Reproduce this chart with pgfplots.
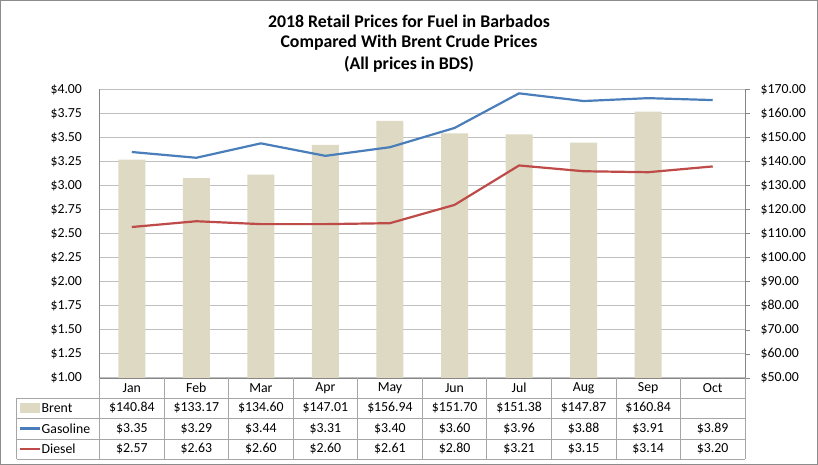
\documentclass[border=0pt]{standalone}
\usepackage{pgfplots}
\pgfplotsset{compat=1.18}
\usepackage{pgfplotstable}
\usepackage{fontspec}
\setmainfont{Carlito}
\definecolor{brent}{HTML}{DDD9C3}
\definecolor{gas}{HTML}{4A7EBB}
\definecolor{dsl}{HTML}{BE4B48}
\definecolor{gridc}{HTML}{BFBFBF}
\definecolor{axc}{HTML}{868686}
\definecolor{tblc}{HTML}{A6A6A6}
\definecolor{bord}{HTML}{8C8C8C}

\pgfplotstableread{
idx brent gas diesel
0 140.84 3.35 2.57
1 133.17 3.29 2.63
2 134.60 3.44 2.60
3 147.01 3.31 2.60
4 156.94 3.40 2.61
5 151.70 3.60 2.80
6 151.38 3.96 3.21
7 147.87 3.88 3.15
8 160.84 3.91 3.14
9 nan 3.89 3.20
}\data

\newcommand{\fs}{\fontsize{13.8bp}{16bp}\selectfont}

\begin{document}
\begin{tikzpicture}
\path[use as bounding box] (0bp,0bp) rectangle (818bp,465bp);
\draw[bord, line width=1bp] (0.5bp,0.5bp) rectangle (817.5bp,464.5bp);

% Right axis with bars and gridlines
\begin{axis}[
  at={(99.5bp,87bp)}, anchor=south west,
  scale only axis, width=645.5bp, height=288.5bp,
  xmin=-0.5, xmax=9.5, ymin=50, ymax=170,
  ytick={50,60,70,80,90,100,110,120,130,140,150,160,170},
  axis y line*=right, hide x axis,
  y axis line style={draw=axc, line width=0.8bp},
  ymajorgrids, grid style={gridc, line width=1bp},
  tick align=outside, major tick length=5bp,
  ytick style={axc, line width=0.8bp},
  /pgf/number format/assume math mode=true,
  yticklabel={\$\pgfmathprintnumber[fixed,fixed zerofill,precision=2]{\tick}},
  yticklabel style={font=\fs, anchor=west, xshift=7bp},
  clip=false,
]
\addplot[ybar, bar width=27bp, fill=brent, draw=none] table[x=idx, y=brent] {\data};
\end{axis}

% Left axis with lines
\begin{axis}[
  at={(99.5bp,87bp)}, anchor=south west,
  scale only axis, width=645.5bp, height=288.5bp,
  xmin=-0.5, xmax=9.5, ymin=1, ymax=4,
  ytick={1,1.25,1.5,1.75,2,2.25,2.5,2.75,3,3.25,3.5,3.75,4},
  axis y line*=left, hide x axis,
  y axis line style={draw=axc, line width=0.8bp},
  major tick length=0pt,
  /pgf/number format/assume math mode=true,
  yticklabel={\$\pgfmathprintnumber[fixed,fixed zerofill,precision=2]{\tick}},
  yticklabel style={font=\fs, anchor=east, xshift=-14bp},
  clip=false,
]
\addplot[gas, line width=2.2bp] table[x=idx, y=gas] {\data};
\addplot[dsl, line width=2.2bp] table[x=idx, y=diesel] {\data};
\end{axis}

% Title
\node[font=\fontsize{17.8bp}{20bp}\selectfont\bfseries] at (409bp,444bp) {2018 Retail Prices for Fuel in Barbados};
\node[font=\fontsize{17.8bp}{20bp}\selectfont\bfseries] at (409bp,422bp) {Compared With Brent Crude Prices};
\node[font=\fontsize{17.8bp}{20bp}\selectfont\bfseries] at (409bp,400.5bp) {(All prices in BDS)};

% Data table
\begin{scope}[x=1bp,y=1bp]
\draw[axc, line width=0.8bp] (99.5,87) -- (745,87);
\foreach \y in {66.7,47,26,6} \draw[tblc, line width=0.8bp] (16.7,\y) -- (745,\y);
\draw[tblc, line width=0.8bp] (16.7,66.7) -- (16.7,6);
\foreach \k in {0,...,10} \draw[tblc, line width=0.8bp] ({99.5+\k*64.55},87) -- ({99.5+\k*64.55},6);
% legend keys
\fill[brent] (20,52) rectangle (40,62);
\draw[gas, line width=2.2bp] (20,36.5) -- (40,36.5);
\draw[dsl, line width=2.2bp] (20,16) -- (40,16);
\node[font=\fs, anchor=west, inner sep=0] at (41.5,57) {Brent};
\node[font=\fs, anchor=west, inner sep=0] at (41.5,36.5) {Gasoline};
\node[font=\fs, anchor=west, inner sep=0] at (41.5,16) {Diesel};
\foreach \m [count=\i from 0] in {Jan,Feb,Mar,Apr,May,Jun,Jul,Aug,Sep,Oct}
  \node[font=\fs] at ({99.5+(\i+0.5)*64.55},77) {\m};
\foreach \v [count=\i from 0] in {140.84,133.17,134.60,147.01,156.94,151.70,151.38,147.87,160.84}
  \node[font=\fs] at ({99.5+(\i+0.5)*64.55},57) {\$\v};
\foreach \v [count=\i from 0] in {3.35,3.29,3.44,3.31,3.40,3.60,3.96,3.88,3.91,3.89}
  \node[font=\fs] at ({99.5+(\i+0.5)*64.55},36.5) {\$\v};
\foreach \v [count=\i from 0] in {2.57,2.63,2.60,2.60,2.61,2.80,3.21,3.15,3.14,3.20}
  \node[font=\fs] at ({99.5+(\i+0.5)*64.55},16) {\$\v};
\end{scope}
\end{tikzpicture}
\end{document}
